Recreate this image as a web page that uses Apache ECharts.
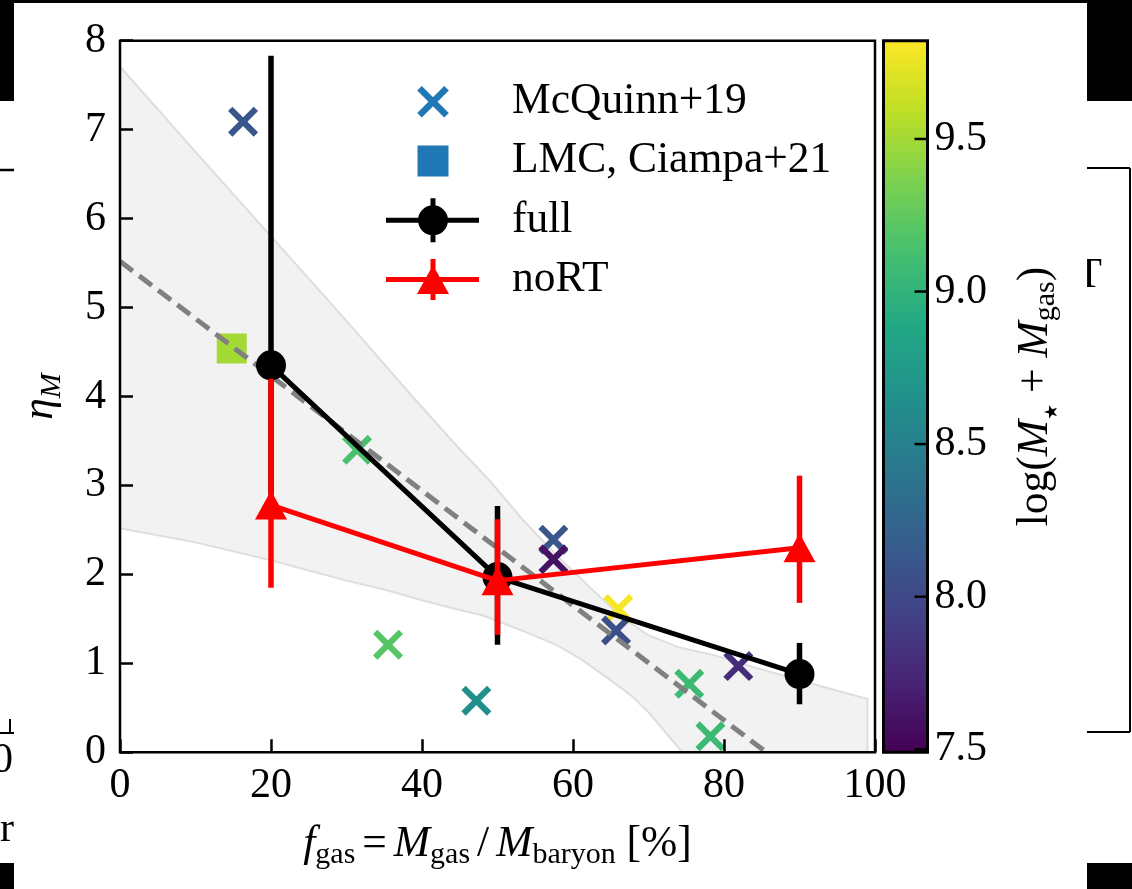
<!DOCTYPE html>
<html><head><meta charset="utf-8">
<script src="https://cdn.jsdelivr.net/npm/echarts@6/dist/echarts.min.js"></script>
<style>html,body{margin:0;padding:0;background:#000}#c{width:1132px;height:889px}</style>
</head><body><div id="c"></div>
<script>
// ---------------- data ----------------
const xTickLabels = [0, 20, 40, 60, 80, 100];
const yTickLabels = [0, 1, 2, 3, 4, 5, 6, 7, 8];
const cbTickValues = [7.5, 8.0, 8.5, 9.0, 9.5];
const cbMin = 7.49, cbMax = 9.822;

// McQuinn+19 points: f_gas, eta_M, log(M*+Mgas)
const mcX    = [16.3, 31.4, 35.5, 47.2, 57.4, 57.4, 66.0, 65.7, 81.9, 75.4, 78.2];
const mcY    = [7.09, 3.40, 1.21, 0.58, 2.39, 2.17, 1.61, 1.37, 0.97, 0.77, 0.18];
const mcMass = [8.12, 9.14, 9.20, 8.65, 8.12, 7.60, 9.80, 8.05, 7.79, 9.07, 9.07];

// LMC, Ciampa+21
const lmcX = [14.8], lmcY = [4.54], lmcMass = [9.50];

// simulations
const simX   = [20, 50, 90];
const fullY  = [4.35, 1.97, 0.88];
const fullLo = [2.90, 1.21, 0.54];
const fullHi = [7.83, 2.77, 1.23];
const noRTY  = [2.78, 1.93, 2.30];
const noRTLo = [1.85, 1.32, 1.68];
const noRTHi = [4.20, 2.62, 3.11];

// linear fit (dashed)
const fitX = [0, 85.6];
const fitY = [5.52, 0];

// shaded band
const bandUpX = [0, 10, 20, 30, 38, 44, 49, 53.5, 58, 63.3, 66.5, 69.9, 74, 78.8, 83, 87.6, 93, 99, 99];
const bandUpY = [7.71, 6.75, 5.8, 4.85, 4.07, 3.5, 3.05, 2.6, 2.2, 1.77, 1.52, 1.32, 1.18, 1.09, 0.98, 0.87, 0.74, 0.6, 0];
const bandLoX = [0, 10, 20, 30, 35, 40, 45, 48, 53.5, 58, 61, 64, 67.7, 70, 73.4, 74.5];
const bandLoY = [2.52, 2.36, 2.16, 1.93, 1.83, 1.71, 1.6, 1.54, 1.36, 1.2, 1.05, 0.87, 0.64, 0.45, 0.11, 0];

const viridis = ['#440154','#482475','#414487','#355f8d','#2a788e','#21918c','#22a884','#44bf70','#7ad151','#bddf26','#fde725'];

// ---------------- helpers ----------------
const FONT = "'Liberation Serif', 'Times New Roman', serif";
const FS = 42, LFS = 43.5, NFS = 43.5, SFS = 30;
const zip3 = (a, b, c) => a.map((v, i) => [v, b[i], c[i]]);
const zip2 = (a, b) => a.map((v, i) => [v, b[i]]);

const X_PATH = 'path://M-11.2 -15.8 L15.8 11.2 L11.2 15.8 L-15.8 -11.2 Z M15.8 -11.2 L-11.2 15.8 L-15.8 11.2 L11.2 -15.8 Z';
const B = 'M0 0 M121 44 ';
const ICON_X = 'path://' + B + 'M35.8 6.2 L62.8 33.2 L58.2 37.8 L31.2 10.8 Z M62.8 10.8 L35.8 37.8 L31.2 33.2 L58.2 6.2 Z';
const ICON_SQ = 'path://' + B + 'M31.5 6.5 H62.5 V37.5 H31.5 Z';
const ICON_FULL = 'path://' + B + 'M0 19.5 H93 V24.5 H0 Z M44.5 0 H49.5 V44 H44.5 Z M32 22 A15 15 0 1 1 62 22 A15 15 0 1 1 32 22 Z';
const ICON_NORT = 'path://' + B + 'M0 19.5 H93 V24.5 H0 Z M44.5 1.5 H49.5 V42.5 H44.5 Z M47 7.5 L63 36.5 L31 36.5 Z';

function errRender(color) {
  return function (params, api) {
    const p1 = api.coord([api.value(0), api.value(1)]);
    const p2 = api.coord([api.value(0), api.value(2)]);
    return { type: 'line', shape: { x1: p1[0], y1: p1[1], x2: p2[0], y2: p2[1] },
      style: { stroke: color, lineWidth: 5.5, lineCap: 'butt' } };
  };
}

const chart = echarts.init(document.getElementById('c'), null, { width: 1132, height: 889 });

const axisLbl = { fontFamily: FONT, fontSize: FS, color: '#000' };
const tickStyle = { show: true, inside: true, length: 13, lineStyle: { color: '#000', width: 2.5 } };

chart.setOption({
  animation: false,
  backgroundColor: '#000',
  graphic: [
    { type: 'rect', z: -10, shape: { x: 0, y: 101, width: 1132, height: 762 }, style: { fill: '#fff' } },
    { type: 'line', z: -9, shape: { x1: 0, y1: 170, x2: 20, y2: 170 }, style: { stroke: '#000', lineWidth: 2.5 } },
    { type: 'line', z: -9, shape: { x1: 0, y1: 733, x2: 20, y2: 733 }, style: { stroke: '#000', lineWidth: 2 } },
    { type: 'line', z: -9, shape: { x1: 10, y1: 733, x2: 10, y2: 719 }, style: { stroke: '#000', lineWidth: 2 } },
    { type: 'text', z: -9, style: { text: '100', x: -29, y: 761, align: 'left', verticalAlign: 'middle', font: FS + 'px ' + FONT, fill: '#000' } },
    { type: 'text', z: -9, style: { text: 'yr', x: 14, y: 830, align: 'right', verticalAlign: 'middle', font: FS + 'px ' + FONT, fill: '#000' } },
    { type: 'line', z: -9, shape: { x1: 1075, y1: 168, x2: 1130, y2: 168 }, style: { stroke: '#000', lineWidth: 2 } },
    { type: 'line', z: -9, shape: { x1: 1130, y1: 168, x2: 1130, y2: 732 }, style: { stroke: '#000', lineWidth: 2 } },
    { type: 'line', z: -9, shape: { x1: 1075, y1: 732, x2: 1130, y2: 732 }, style: { stroke: '#000', lineWidth: 2 } },
    { type: 'text', z: -9, style: { text: 'T', x: 1089, y: 276, align: 'center', verticalAlign: 'middle', font: FS + 'px ' + FONT, fill: '#000' } },
    { type: 'rect', z: -8, shape: { x: 14, y: 3, width: 1073, height: 886 }, style: { fill: '#fff' } }
  ],
  grid: [
    { left: 120, top: 40.7, width: 755, height: 711.6, show: true, z: 10, borderColor: '#000', borderWidth: 2.5, backgroundColor: 'transparent' },
    { left: 883.5, top: 40.7, width: 44, height: 711.6, show: true, z: 10, borderColor: '#000', borderWidth: 3, backgroundColor: 'transparent' }
  ],
  xAxis: [
    { gridIndex: 0, type: 'value', min: 0, max: 100, interval: 20, z: 10,
      axisLine: { show: false }, axisTick: tickStyle, splitLine: { show: false },
      axisLabel: Object.assign({ margin: 13, formatter: v => xTickLabels.includes(v) ? String(v) : '' }, axisLbl),
      name: '{i|f}{s|gas}{e|=}{i|M}{s|gas}{e|/}{i|M}{s|baryon}{n| [%]}',
      nameLocation: 'middle', nameGap: 66,
      nameTextStyle: { fontFamily: FONT, fontSize: NFS, color: '#000', rich: {
        i: { fontFamily: FONT, fontStyle: 'italic', fontSize: NFS, lineHeight: 52, color: '#000' },
        n: { fontFamily: FONT, fontSize: NFS, lineHeight: 52, color: '#000' },
        e: { fontFamily: FONT, fontSize: NFS, lineHeight: 52, color: '#000', padding: [0, 7, 0, 7] },
        s: { fontFamily: FONT, fontSize: SFS, lineHeight: 30, verticalAlign: 'bottom', color: '#000' }
      } } },
    { gridIndex: 1, type: 'value', min: 0, max: 1, show: false }
  ],
  yAxis: [
    { gridIndex: 0, type: 'value', min: 0, max: 8, interval: 1, z: 10,
      axisLine: { show: false }, axisTick: tickStyle, splitLine: { show: false },
      axisLabel: Object.assign({ margin: 14, formatter: v => yTickLabels.includes(v) ? String(v) : '' }, axisLbl),
      name: '{i|η}{s|M}', nameLocation: 'middle', nameRotate: 90, nameGap: 53,
      nameTextStyle: { fontFamily: FONT, fontSize: NFS, color: '#000', rich: {
        i: { fontFamily: FONT, fontStyle: 'italic', fontSize: NFS, lineHeight: 52, color: '#000' },
        s: { fontFamily: FONT, fontStyle: 'italic', fontSize: SFS, lineHeight: 30, verticalAlign: 'bottom', color: '#000' }
      } } },
    { gridIndex: 1, type: 'value', min: cbMin, max: cbMax, position: 'right', z: 10,
      axisLine: { show: false, onZero: false }, splitLine: { show: false },
      axisTick: { show: false },
      axisLabel: Object.assign({ margin: 7, customValues: cbTickValues, formatter: v => v.toFixed(1) }, axisLbl),
      name: '{n|log(}{i|M}{t|★}{n| + }{i|M}{s|gas}{n|)}', nameLocation: 'middle', nameRotate: 90, nameGap: 82,
      nameTextStyle: { fontFamily: FONT, fontSize: NFS, color: '#000', rich: {
        i: { fontFamily: FONT, fontStyle: 'italic', fontSize: NFS, lineHeight: 52, color: '#000' },
        n: { fontFamily: FONT, fontSize: NFS, lineHeight: 52, color: '#000' },
        t: { fontFamily: "'DejaVu Sans', sans-serif", fontSize: 18, lineHeight: 30, verticalAlign: 'bottom', color: '#000' },
        s: { fontFamily: FONT, fontSize: SFS, lineHeight: 30, verticalAlign: 'bottom', color: '#000' }
      } } }
  ],
  visualMap: {
    type: 'continuous', show: false, seriesIndex: [1, 2], dimension: 2,
    min: cbMin, max: cbMax, inRange: { color: viridis }
  },
  legend: {
    orient: 'vertical', left: 386, top: 79.7, padding: 0,
    itemWidth: 121, itemHeight: 44, itemGap: 15.3, selectedMode: false,
    itemStyle: { borderWidth: 0 },
    textStyle: { fontFamily: FONT, fontSize: LFS, color: '#000' },
    data: [
      { name: 'McQuinn+19', icon: ICON_X },
      { name: 'LMC, Ciampa+21', icon: ICON_SQ },
      { name: 'full', icon: ICON_FULL },
      { name: 'noRT', icon: ICON_NORT }
    ]
  },
  series: [
    { name: 'band', type: 'custom', xAxisIndex: 0, yAxisIndex: 0, z: 1, silent: true,
      data: [[0, 0]],
      renderItem: function (params, api) {
        const up = bandUpX.map((x, i) => api.coord([x, bandUpY[i]]));
        const lo = bandLoX.map((x, i) => api.coord([x, bandLoY[i]]));
        const poly = up.concat(lo.slice().reverse());
        return { type: 'group', children: [
          { type: 'polygon', shape: { points: poly }, style: { fill: '#f2f2f2', stroke: null } },
          { type: 'polyline', shape: { points: up }, style: { stroke: '#dedede', lineWidth: 2, fill: null } },
          { type: 'polyline', shape: { points: lo }, style: { stroke: '#dedede', lineWidth: 2, fill: null } }
        ] };
      } },
    { name: 'McQuinn+19', type: 'scatter', xAxisIndex: 0, yAxisIndex: 0, z: 2,
      symbol: X_PATH, symbolSize: 30, symbolKeepAspect: true,
      itemStyle: { color: '#1f77b4', opacity: 1 },
      data: zip3(mcX, mcY, mcMass) },
    { name: 'LMC, Ciampa+21', type: 'scatter', xAxisIndex: 0, yAxisIndex: 0, z: 2,
      symbol: 'rect', symbolSize: 30,
      itemStyle: { color: '#1f77b4', opacity: 1 },
      data: zip3(lmcX, lmcY, lmcMass) },
    { name: 'fit', type: 'line', xAxisIndex: 0, yAxisIndex: 0, z: 3, silent: true,
      showSymbol: false, symbol: 'none',
      lineStyle: { color: '#808080', width: 5, type: [16, 8] },
      data: zip2(fitX, fitY) },
    { name: 'fullErr', type: 'custom', xAxisIndex: 0, yAxisIndex: 0, z: 4,
      renderItem: errRender('#000'), data: zip3(simX, fullLo, fullHi) },
    { name: 'full', type: 'line', xAxisIndex: 0, yAxisIndex: 0, z: 5,
      symbol: 'circle', symbolSize: 30, showSymbol: true,
      lineStyle: { color: '#000', width: 5 }, itemStyle: { color: '#000', borderWidth: 0 },
      data: zip2(simX, fullY) },
    { name: 'noRTErr', type: 'custom', xAxisIndex: 0, yAxisIndex: 0, z: 6,
      renderItem: errRender('#ff0000'), data: zip3(simX, noRTLo, noRTHi) },
    { name: 'noRT', type: 'line', xAxisIndex: 0, yAxisIndex: 0, z: 7,
      symbol: 'triangle', symbolSize: [32, 29], showSymbol: true,
      lineStyle: { color: '#ff0000', width: 5 }, itemStyle: { color: '#ff0000', borderWidth: 0 },
      data: zip2(simX, noRTY) },
    { name: 'colorbar', type: 'custom', xAxisIndex: 1, yAxisIndex: 1, z: 1, silent: true,
      data: [[0, cbMin]],
      renderItem: function (params, api) {
        const p0 = api.coord([0, cbMax]);
        const p1 = api.coord([1, cbMin]);
        const n = viridis.length - 1;
        const stops = viridis.map((c, i) => ({ offset: 1 - i / n, color: c })).reverse();
        return { type: 'rect', shape: { x: p0[0], y: p0[1], width: p1[0] - p0[0], height: p1[1] - p0[1] },
          style: { fill: new echarts.graphic.LinearGradient(0, 0, 0, 1, stops) } };
      } },
    { name: 'colorbarTicks', type: 'custom', xAxisIndex: 1, yAxisIndex: 1, z: 12, silent: true,
      data: cbTickValues.map(v => [1, v]),
      renderItem: function (params, api) {
        const p = api.coord([api.value(0), api.value(1)]);
        return { type: 'line', shape: { x1: p[0], y1: p[1], x2: p[0] - 13, y2: p[1] },
          style: { stroke: '#000', lineWidth: 2.5 } };
      } }
  ]
});
</script>
</body></html>
